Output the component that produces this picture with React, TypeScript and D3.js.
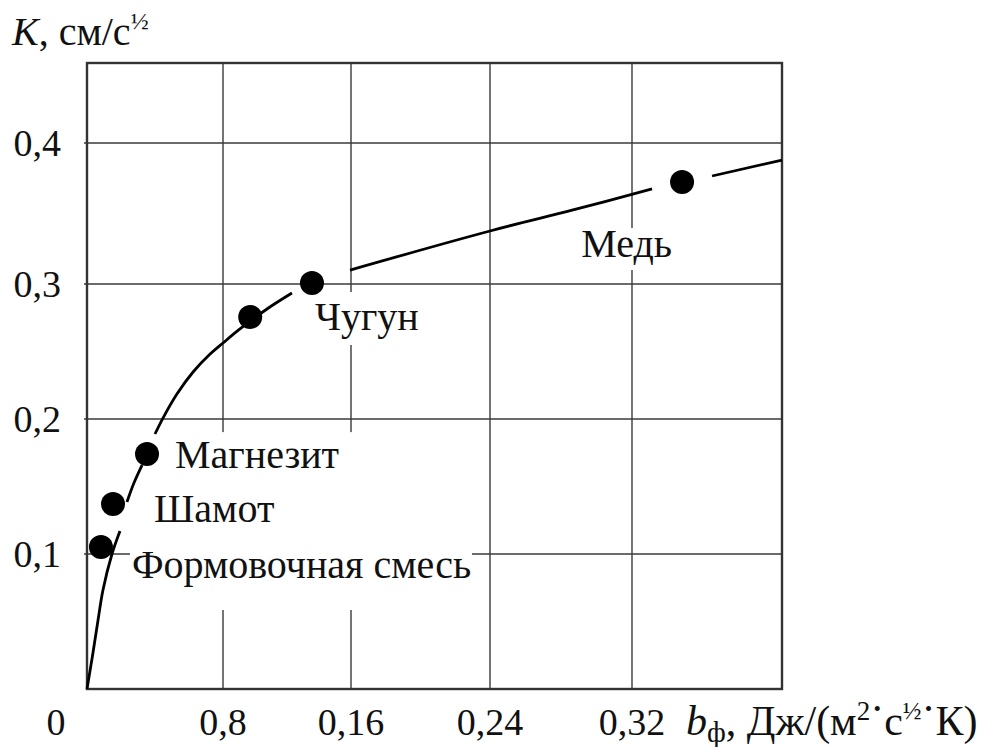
import React from "react";
import * as d3 from "d3";

// ---- data ----
const xTickValues = [0, 0.08, 0.16, 0.24, 0.32, 0.4];
const xTickLabels = ["0", "0,8", "0,16", "0,24", "0,32", ""];
const yTickValues = [0, 0.1, 0.2, 0.3, 0.4];
const yTickLabels = ["", "0,1", "0,2", "0,3", "0,4"];

const pointNames = ["Формовочная смесь", "Шамот", "Магнезит", "", "Чугун", "Медь"];
const pointB = [0.0082, 0.0153, 0.0353, 0.097, 0.1356, 0.3467];
const pointK = [0.1052, 0.137, 0.174, 0.2756, 0.3007, 0.3723];

// curve pieces as drawn (the line is interrupted near the points)
const curveSeg1: [number, number][] = [
  [0, 0], [0.0035, 0.0267], [0.0065, 0.0511], [0.0094, 0.0733], [0.0147, 0.1], [0.0194, 0.117],
];
const curveSeg2: [number, number][] = [[0.0235, 0.1385], [0.0276, 0.1526], [0.0324, 0.1659]];
const curveSeg3: [number, number][] = [
  [0.04, 0.1889], [0.0447, 0.2007], [0.0529, 0.2185], [0.0624, 0.2348], [0.0724, 0.2481],
  [0.08, 0.2563], [0.0906, 0.2667], [0.1075, 0.2815], [0.1231, 0.2933],
];
const curveSeg4: [number, number][] = [
  [0.1594, 0.3099], [0.24, 0.3376], [0.2868, 0.3525], [0.3307, 0.3674],
];
const curveSeg5: [number, number][] = [[0.3627, 0.3766], [0.4, 0.3879]];
const curveSegments = [curveSeg1, curveSeg2, curveSeg3, curveSeg4, curveSeg5];

// ---- layout ----
const W = 982;
const H = 747;
// the printed grid is hand-spaced, so the scales are piecewise linear
const xRangeStops = [87, 223, 351, 490, 632, 782];
const yDomainTop = 0.457;
const yRangeStops = [689, 554, 419, 284, 143, 63];
const FONT = '"Liberation Serif", "DejaVu Serif", serif';
const FS = 40; // point labels & titles
const FS_TICK = 38;
const FS_XTITLE = 42;
const DOT_R = 12;

// label offsets (px) from their point
const labelOffsets: Record<string, [number, number, string]> = {
  "Формовочная смесь": [31, 31, "start"],
  "Шамот": [41, 18, "start"],
  "Магнезит": [28, 14, "start"],
  "Чугун": [3, 47, "start"],
  "Медь": [-10, 75, "end"],
};

export default function App() {
  const x = d3.scaleLinear().domain(xTickValues).range(xRangeStops);
  const y = d3
    .scaleLinear()
    .domain([...yTickValues, yDomainTop])
    .range(yRangeStops);

  const line = d3
    .line<[number, number]>()
    .x((d) => x(d[0]))
    .y((d) => y(d[1]))
    .curve(d3.curveCatmullRom.alpha(0.5));

  const x0 = x(0);
  const x1 = x(0.4);
  const y0 = y(0);
  const y1 = y(yDomainTop);

  const pts = pointB.map((b, i) => ({ b, k: pointK[i], name: pointNames[i], px: x(b), py: y(pointK[i]) }));
  const byName = (n: string) => pts.find((p) => p.name === n)!;
  const form = byName("Формовочная смесь");
  const mag = byName("Магнезит");
  const chug = byName("Чугун");
  const med = byName("Медь");

  // white backgrounds behind the labels (they interrupt the grid in the original)
  const boxTop = mag.py + labelOffsets["Магнезит"][1] - 36;
  const boxBottom = form.py + labelOffsets["Формовочная смесь"][1] + 32;
  const boxes = [
    { x: form.px + labelOffsets["Формовочная смесь"][0] - 2, y: boxTop, w: 342, h: boxBottom - boxTop },
    { x: chug.px + 1, y: chug.py + 9, w: 108, h: 53 },
    { x: med.px - 104, y: med.py + 46, w: 98, h: 42 },
  ];

  const gridColor = "#3a3a3a";
  const textStyle = { fontFamily: FONT };

  return (
    <svg width={W} height={H} style={{ position: "absolute", left: 0, top: 0, background: "#fff", fontFamily: FONT }}>
      <rect x={0} y={0} width={W} height={H} fill="#fff" />
      {/* grid */}
      {xTickValues.slice(1, -1).map((v) => (
        <line key={"gx" + v} x1={x(v)} x2={x(v)} y1={y1} y2={y0} stroke={gridColor} strokeWidth={1.4} />
      ))}
      {yTickValues.slice(1).map((v) => (
        <line key={"gy" + v} x1={x0 - 3} x2={x1} y1={y(v)} y2={y(v)} stroke={gridColor} strokeWidth={1.4} />
      ))}
      {/* frame */}
      <rect x={x0} y={y1} width={x1 - x0} height={y0 - y1} fill="none" stroke="#333" strokeWidth={2.4} />

      {/* label backgrounds */}
      {boxes.map((b, i) => (
        <rect key={"bx" + i} x={b.x} y={b.y} width={b.w} height={b.h} fill="#fff" />
      ))}

      {/* curve */}
      {curveSegments.map((s, i) => (
        <path key={"c" + i} d={line(s) || ""} fill="none" stroke="#000" strokeWidth={2.8} strokeLinecap="butt" />
      ))}

      {/* points */}
      {pts.map((p, i) => (
        <circle key={"p" + i} cx={p.px} cy={p.py} r={DOT_R} fill="#000" />
      ))}

      {/* point labels */}
      {pts
        .filter((p) => p.name)
        .map((p) => {
          const [dx, dy, anchor] = labelOffsets[p.name];
          return (
            <text key={"l" + p.name} x={p.px + dx} y={p.py + dy} fontSize={FS} textAnchor={anchor} fill="#111" style={textStyle}>
              {p.name}
            </text>
          );
        })}

      {/* y tick labels */}
      {yTickValues.map((v, i) =>
        yTickLabels[i] ? (
          <text key={"yt" + v} x={x0 - 26} y={y(v) + 13} fontSize={FS_TICK} textAnchor="end" fill="#111" style={textStyle}>
            {yTickLabels[i]}
          </text>
        ) : null
      )}
      {/* x tick labels */}
      {xTickValues.map((v, i) =>
        xTickLabels[i] ? (
          <text
            key={"xt" + v}
            x={v === 0 ? x(v) - 31 : x(v)}
            y={y0 + 46}
            fontSize={FS_TICK}
            textAnchor="middle"
            fill="#111"
            style={textStyle}
          >
            {xTickLabels[i]}
          </text>
        ) : null
      )}

      {/* axis titles */}
      <text x={12} y={45} fontSize={FS} fill="#111" style={textStyle}>
        <tspan fontStyle="italic">K</tspan>
        <tspan>, см/с</tspan>
        <tspan fontSize={24} dy={-16}>½</tspan>
      </text>
      <text x={686} y={y0 + 46} fontSize={FS_XTITLE} fill="#111" style={textStyle}>
        <tspan fontStyle="italic">b</tspan>
        <tspan fontSize={29} dy={7}>ф</tspan>
        <tspan dy={-7}>, Дж/(м</tspan>
        <tspan fontSize={27} dy={-15}>2</tspan>
        <tspan dy={3}>·</tspan>
        <tspan dy={12}>с</tspan>
        <tspan fontSize={25} dy={-16}>½</tspan>
        <tspan dy={4}>·</tspan>
        <tspan dy={12}>К)</tspan>
      </text>
    </svg>
  );
}
